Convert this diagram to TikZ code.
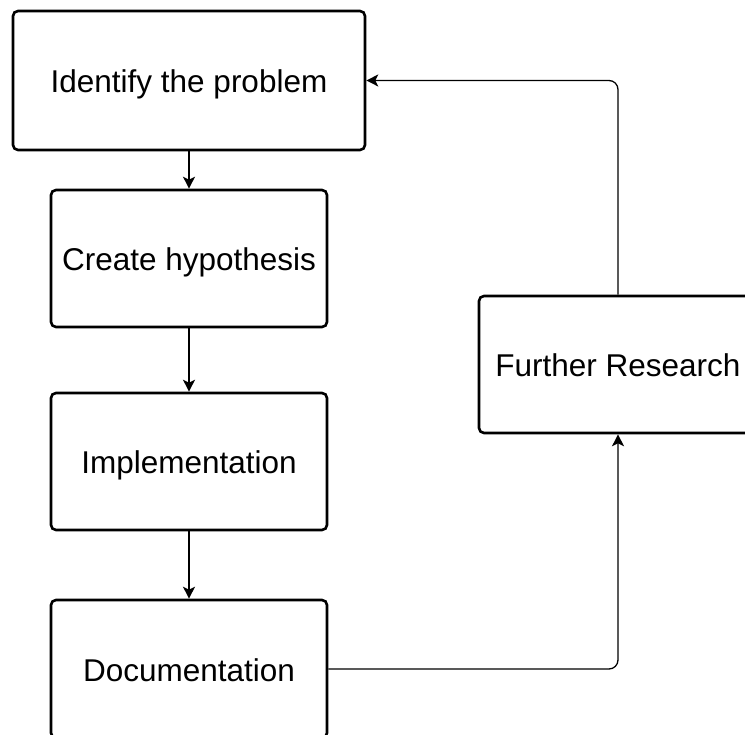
\documentclass[tikz,border=0pt]{standalone}
\usepackage{fontspec}
\setmainfont{Liberation Sans}
\usetikzlibrary{arrows.meta}
\begin{document}
\begin{tikzpicture}[x=1pt,y=-1pt,
  stagebox/.style={draw=black, line width=2.6pt, rounded corners=5pt, fill=white,
    inner sep=0pt, text height=25pt, text depth=0pt,
    font=\fontsize{31.5}{38}\selectfont},
  flow/.style={draw=black, line width=1.3pt, rounded corners=9pt,
    -{Stealth[length=12pt,width=12pt,inset=3pt]}}]
\useasboundingbox (0,0) rectangle (745,735);
\clip (0,0) rectangle (745,735);

\node[stagebox, minimum width=352pt, minimum height=139pt] (identify) at (189,80.5) {Identify the problem};
\node[stagebox, minimum width=276pt, minimum height=137pt] (hypo) at (189,258.5) {Create hypothesis};
\node[stagebox, minimum width=276pt, minimum height=137pt] (impl) at (189,461.5) {Implementation};
\node[stagebox, minimum width=276pt, minimum height=138pt] (doc) at (189,669) {Documentation};
\node[stagebox, minimum width=278pt, minimum height=137pt] (research) at (618,364.5) {Further Research};

\draw[flow] (identify.south) -- (hypo.north);
\draw[flow] (hypo.south) -- (impl.north);
\draw[flow] (impl.south) -- (doc.north);
\draw[flow] (doc.east) -| (research.south);
\draw[flow] (research.north) |- (identify.east);
\end{tikzpicture}
\end{document}
